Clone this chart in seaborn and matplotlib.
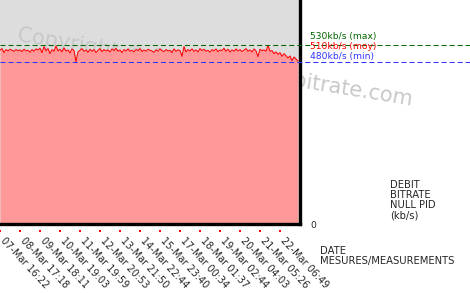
import numpy as np
import pandas as pd
import matplotlib
matplotlib.use("Agg")
import matplotlib.pyplot as plt
import matplotlib.transforms as mtransforms
import seaborn as sns

# ---- data ----
bitrate = [
    515, 520, 508, 517, 513, 518, 515, 512, 517, 514, 516, 511, 518, 513, 515, 509, 517, 512, 519, 516,
    521, 508, 526, 514, 520, 505, 517, 512, 528, 513, 518, 510, 522, 513, 516, 507, 519, 514, 481, 510,
    515, 520, 512, 516, 509, 518, 512, 517, 508, 515, 520, 511, 517, 513, 516, 510, 519, 514, 521, 512,
    516, 508, 517, 513, 519, 512, 515, 510, 517, 514, 520, 511, 516, 512, 518, 515, 513, 509, 516, 512,
    519, 514, 511, 517, 513, 515, 508, 519, 512, 516, 514, 497, 526, 510, 517, 513, 519, 512, 516, 510,
    520, 514, 518, 512, 515, 509, 517, 513, 519, 511, 516, 514, 521, 512, 518, 510, 516, 512, 519, 513,
    517, 511, 515, 520, 512, 516, 510, 519, 513, 496, 518, 514, 516, 512, 529, 512, 514, 505, 510, 503,
    508, 497, 505, 499, 492, 498, 484, 495, 489, 483,
]
tick_labels = ["07-Mar 16:22", "08-Mar 17:18", "09-Mar 18:11", "10-Mar 19:03", "11-Mar 19:59",
               "12-Mar 20:53", "13-Mar 21:50", "14-Mar 22:44", "15-Mar 23:40", "17-Mar 00:34",
               "18-Mar 01:37", "19-Mar 02:44", "20-Mar 04:03", "21-Mar 05:26", "22-Mar 06:49"]
tick_index = [0, 10, 20, 30, 40, 50, 60, 70, 80, 90, 100, 110, 120, 130, 140]
max_rate, moy_rate, min_rate = 530, 510, 480

df = pd.DataFrame({"idx": np.arange(len(bitrate)), "rate": bitrate})

sns.set_style("white")
plt.rcParams["font.family"] = ["DejaVu Sans"]

W, H = 470, 293
fig = plt.figure(figsize=(W / 100, H / 100), dpi=100)
ax = fig.add_axes([0, 1 - 224 / H, 300 / W, 224 / H])
ax.set_facecolor("#dddddd")

# watermark (below the fill)
ax.text(0.055, 0.815, "Copyright \u00a9 2014 www.tv-bitrate.com", transform=ax.transAxes,
        fontsize=15, color="#c8c8c8", rotation=-9.3, rotation_mode="anchor",
        ha="left", va="baseline", zorder=0.5, clip_on=False)

ax.fill_between(df["idx"], 0, df["rate"], color="#ff9999", lw=0, zorder=1)
sns.lineplot(data=df, x="idx", y="rate", ax=ax, color="#ff0000", lw=0.75, zorder=2)

ax.set_xlim(0, 150)
ax.set_ylim(0, 664)

ext = W / 300
ax.axhline(max_rate, xmin=0, xmax=ext, color="#006600", lw=0.75, ls=(0, (4.8, 2.9)),
           clip_on=False, zorder=3)
ax.axhline(min_rate, xmin=0, xmax=ext, color="#3333ff", lw=0.75, ls=(0, (4.8, 2.9)),
           clip_on=False, zorder=3)

for s in ["left", "top"]:
    ax.spines[s].set_visible(False)
for s in ["right", "bottom"]:
    ax.spines[s].set_visible(True)
    ax.spines[s].set_color("black")
    ax.spines[s].set_linewidth(2.4)

ax.set_yticks([])
ax.set_xticks(tick_index)
ax.set_xticklabels(tick_labels, rotation=-47, ha="left", va="top",
                   rotation_mode="anchor", fontsize=7.0)
ax.tick_params(axis="x", length=0, pad=8)
offset = mtransforms.ScaledTranslation(6 / 100, 0, fig.dpi_scale_trans)
for lbl in ax.get_xticklabels():
    lbl.set_transform(lbl.get_transform() + offset)
ax.set_xlabel("")
ax.set_ylabel("")

# red tick dots
trans = mtransforms.blended_transform_factory(ax.transData, ax.transAxes)
ax.scatter(tick_index, [-0.031] * len(tick_index), transform=trans, s=2.2,
           marker="s", color="#ff0000", lw=0, clip_on=False, zorder=4)

def fy(py):
    return 1 - py / H

fig.text(310 / W, fy(36.5), f"{max_rate}kb/s (max)", color="#006600", fontsize=6.6, va="center")
fig.text(310 / W, fy(47), f"{moy_rate}kb/s (moy)", color="#ff0000", fontsize=6.6, va="center")
fig.text(310 / W, fy(56.5), f"{min_rate}kb/s (min)", color="#3333ff", fontsize=6.6, va="center")
fig.text(390 / W, fy(180), "DEBIT\nBITRATE\nNULL PID\n(kb/s)", fontsize=7.2, va="top",
         linespacing=1.02)
fig.text(310 / W, fy(226), "0", fontsize=6.6, va="center")
fig.text(320 / W, fy(246), "DATE\nMESURES/MEASUREMENTS", fontsize=7.2, va="top", linespacing=1.02)

fig.savefig("out.png", dpi=100)
